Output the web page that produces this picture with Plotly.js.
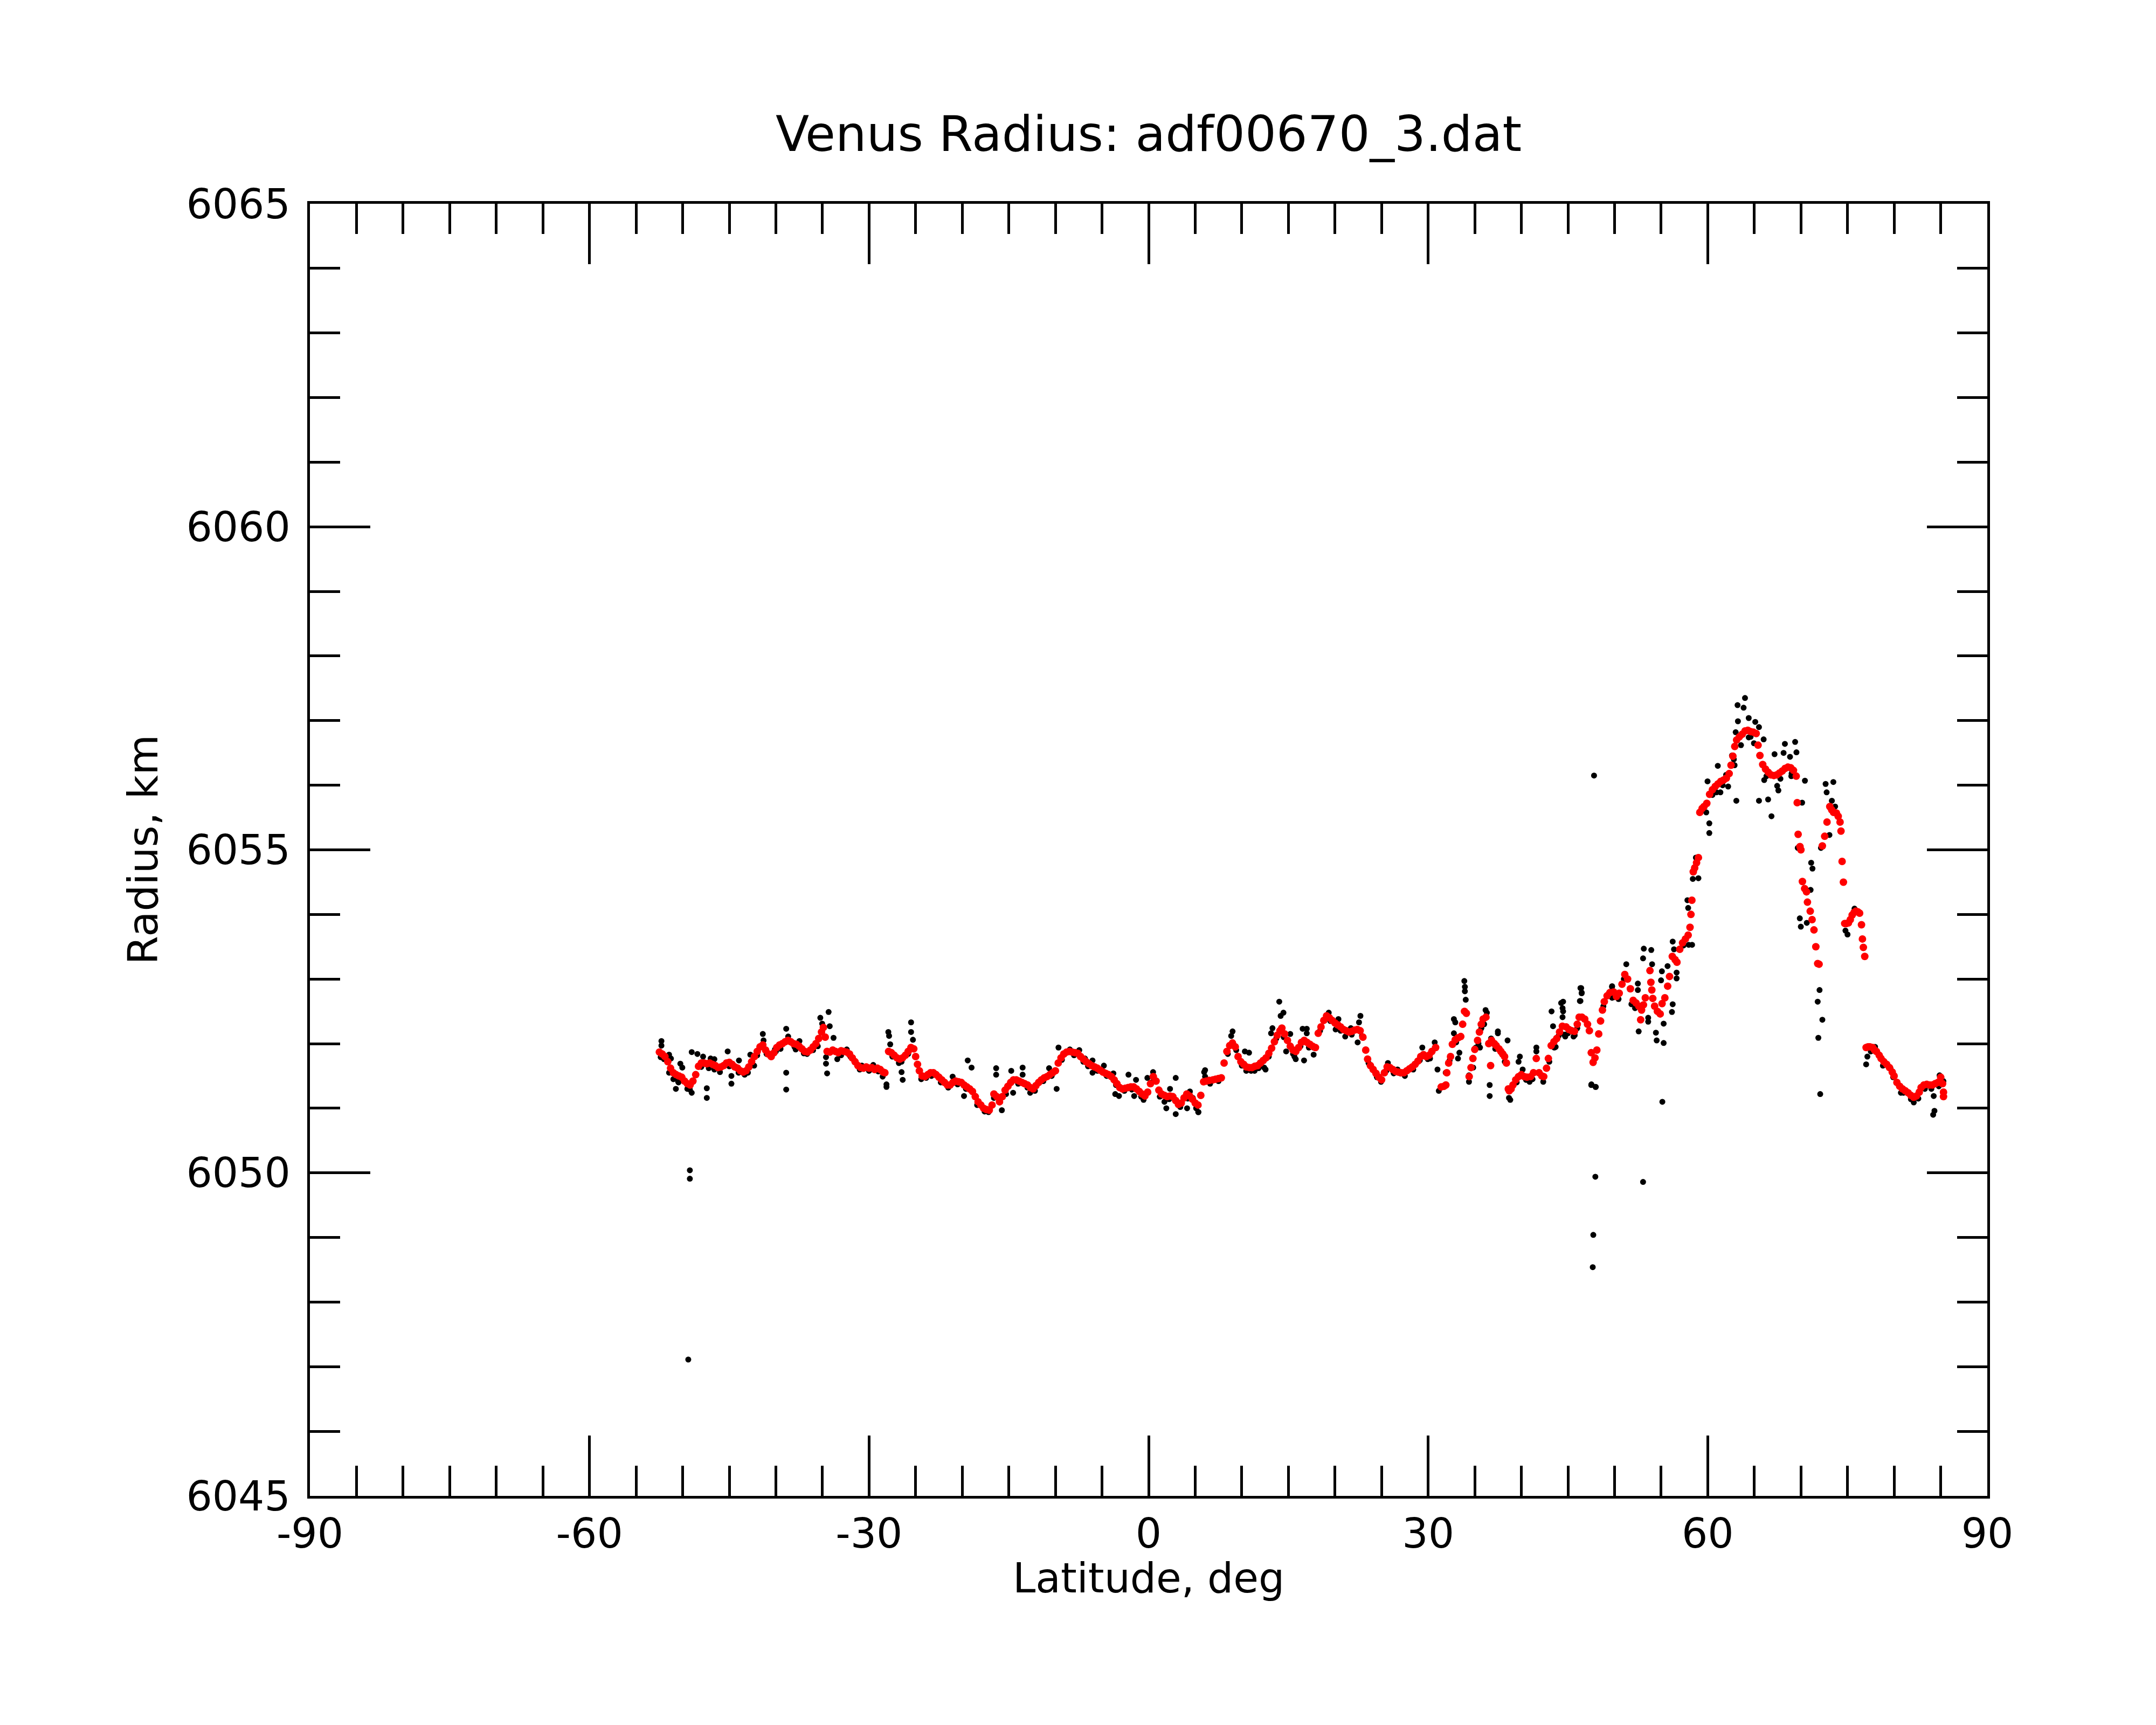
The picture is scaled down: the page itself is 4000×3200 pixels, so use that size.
<!DOCTYPE html>
<html>
<head>
<meta charset="utf-8">
<script src="https://cdn.plot.ly/plotly-3.0.1.min.js"></script>
<style>
  body { margin: 0; background: #fff; }
  #plot { width: 4000px; height: 3200px; }
</style>
</head>
<body>
<div id="plot"></div>
<script>
//------------INPUT DATA------------

// smoothed radius (red dots): latitude, deg
const redLat = [
  -52.5, -52.2, -51.9, -51.6, -51.3, -51.0, -50.7, -50.4, -50.1, -49.8, -49.5, -49.2, -48.9, -48.6, -48.3,
  -48.0, -47.7, -47.4, -47.1, -46.8, -46.5, -46.2, -45.9, -45.6, -45.3, -45.0, -44.7, -44.4, -44.1, -43.8,
  -43.5, -43.2, -42.9, -42.6, -42.3, -42.0, -41.7, -41.4, -41.1, -40.8, -40.5, -40.2, -39.9, -39.6, -39.3,
  -39.0, -38.7, -38.4, -38.1, -37.8, -37.5, -37.2, -36.9, -36.6, -36.3, -36.0, -35.7, -35.4, -35.1, -34.9,
  -34.7, -34.5, -34.2, -33.9, -33.6, -33.3, -33.0, -32.7, -32.4, -32.1, -31.8, -31.5, -31.2, -30.9, -30.6,
  -30.3, -30.0, -29.7, -29.4, -29.1, -28.8, -28.5, -28.3,
  -27.9, -27.6, -27.3, -27.0, -26.7, -26.4, -26.1, -25.8, -25.5, -25.2, -25.0, -24.8, -24.6, -24.3, -24.0,
  -23.7, -23.4, -23.1, -22.8, -22.5, -22.2, -21.9, -21.6, -21.3, -21.0, -20.7, -20.4, -20.1, -19.8, -19.5,
  -19.2, -18.9, -18.6, -18.3, -18.0, -17.7, -17.4, -17.1, -16.8, -16.6, -16.3, -16.0, -15.7, -15.4, -15.1,
  -14.8, -14.5, -14.2, -13.9, -13.6, -13.3, -13.0, -12.7, -12.4, -12.1, -11.8, -11.5, -11.2, -10.9, -10.6,
  -10.3, -10.0, -9.7, -9.4, -9.1, -8.8, -8.5, -8.2, -7.9, -7.6, -7.3, -7.0, -6.7, -6.4, -6.1,
  -5.8, -5.5, -5.2, -4.9, -4.6, -4.3, -4.0, -3.7, -3.4, -3.1, -2.8, -2.5, -2.2, -1.9, -1.6,
  -1.3, -1.0, -0.7, -0.4, -0.1, 0.2, 0.5, 0.8, 1.1, 1.4, 1.7, 2.0, 2.3, 2.6, 2.9,
  3.2, 3.5, 3.8, 4.1, 4.4, 4.7, 5.0, 5.3, 5.6, 5.9, 6.2, 6.5, 6.9, 7.2, 7.5,
  7.8, 8.1, 8.4, 8.7, 9.0, 9.3, 9.6, 9.9, 10.2, 10.5, 10.8, 11.1, 11.4, 11.7, 12.0,
  12.3, 12.6, 12.9, 13.2, 13.5, 13.8, 14.1, 14.3, 14.6, 14.9, 15.2, 15.5, 15.8, 16.1, 16.4,
  16.7, 17.0, 17.3, 17.6, 17.9, 18.2, 18.5, 18.8, 19.1, 19.4, 19.7, 20.0, 20.3, 20.6, 20.9,
  21.2, 21.5, 21.8, 22.1, 22.4, 22.7, 23.0, 23.3, 23.5, 23.8, 24.1, 24.4, 24.7, 25.0, 25.3,
  25.6, 25.9, 26.2, 26.5, 26.8, 27.1, 27.4, 27.7, 28.0, 28.3, 28.6, 28.9, 29.2, 29.5, 29.8,
  30.1, 30.4, 30.8,
  31.4, 31.7, 31.9, 32.0, 32.2, 32.4, 32.6, 32.9, 33.2, 33.5, 33.7, 33.9, 34.1,
  34.4, 34.6, 34.8, 35.0, 35.3, 35.5, 35.7, 35.9, 36.2, 36.5, 36.7, 36.8, 37.1, 37.3, 37.6,
  37.8, 38.0, 38.2, 38.4, 38.6, 38.7, 38.9, 39.1, 39.4, 39.7, 40.0, 40.3, 40.6, 41.0, 41.3,
  41.6, 41.9, 42.2, 42.4, 42.7, 42.9, 43.2, 43.5, 43.8, 44.1, 44.4, 44.8, 45.1, 45.4, 45.7,
  46.0, 46.2, 46.5, 46.8, 47.1, 47.3, 47.5, 47.7, 47.9, 48.1, 48.3, 48.5, 48.7, 48.9, 49.2,
  49.5, 49.9, 50.2, 50.5, 50.8, 51.1, 51.4, 51.7, 52.0, 52.3, 52.6, 52.8, 52.9, 53.1, 53.3,
  53.8, 53.9, 54.0, 54.1, 54.3, 54.6, 54.9, 55.1, 55.4, 55.7, 55.9, 56.2, 56.5, 56.7, 57.0,
  57.3, 57.6, 57.9, 58.1, 58.2, 58.3, 58.45, 58.6, 58.8, 59.0, 59.15, 59.4, 59.6, 59.9, 60.2,
  60.5, 60.8, 61.1, 61.4, 61.7, 62.0, 62.3, 62.5, 62.7, 62.9, 63.1, 63.4, 63.7, 64.0, 64.3,
  64.6, 64.9, 65.2, 65.4, 65.6, 65.9, 66.2, 66.5, 66.8, 67.1, 67.4, 67.7, 68.0, 68.3, 68.6,
  68.9, 69.2, 69.5, 69.6, 69.7, 69.9, 70.0, 70.16, 70.4, 70.6, 70.7, 71.0, 71.2, 71.4, 71.6,
  71.8, 71.95, 72.3, 72.55, 72.8, 73.1, 73.3, 73.5, 73.8, 74.0, 74.2, 74.3, 74.42, 74.56, 74.7,
  74.9, 75.1, 75.3, 75.5, 75.7, 75.9, 76.1, 76.3, 76.5, 76.6, 76.7, 76.85,
  77.0, 77.2, 77.4, 77.7, 77.9, 78.1, 78.4, 78.6, 78.9, 79.2, 79.5, 79.8, 80.0, 80.3, 80.6,
  80.9, 81.2, 81.5, 81.8, 82.1, 82.4, 82.7, 82.9, 83.2, 83.5, 83.8, 84.1, 84.4, 84.7, 85.0,
  85.2, 85.3, 85.3
];

// smoothed radius (red dots): km
const redRad = [
  6051.87, 6051.84, 6051.80, 6051.72, 6051.62, 6051.55, 6051.52, 6051.50, 6051.48, 6051.42, 6051.38, 6051.36, 6051.42, 6051.52, 6051.65,
  6051.70, 6051.70, 6051.69, 6051.70, 6051.68, 6051.66, 6051.63, 6051.64, 6051.66, 6051.70, 6051.71, 6051.68, 6051.64, 6051.62, 6051.58,
  6051.56, 6051.58, 6051.64, 6051.72, 6051.80, 6051.88, 6051.95, 6051.98, 6051.90, 6051.84, 6051.80, 6051.86, 6051.94, 6051.98, 6052.00,
  6052.03, 6052.05, 6052.03, 6052.00, 6051.99, 6051.96, 6051.92, 6051.88, 6051.87, 6051.90, 6051.95, 6052.00, 6052.08, 6052.18, 6052.25,
  6052.10, 6051.88, 6051.87, 6051.90, 6051.88, 6051.86, 6051.89, 6051.88, 6051.87, 6051.84, 6051.78, 6051.72, 6051.66, 6051.63, 6051.62,
  6051.64, 6051.62, 6051.63, 6051.60, 6051.62, 6051.60, 6051.56, 6051.55,
  6051.88, 6051.86, 6051.82, 6051.78, 6051.76, 6051.78, 6051.82, 6051.88, 6051.94, 6051.92, 6051.80, 6051.68, 6051.58, 6051.50, 6051.49,
  6051.52, 6051.55, 6051.55, 6051.52, 6051.48, 6051.44, 6051.40, 6051.36, 6051.36, 6051.40, 6051.42, 6051.41, 6051.40, 6051.36, 6051.33,
  6051.30, 6051.26, 6051.18, 6051.10, 6051.05, 6051.00, 6050.98, 6050.97, 6051.05, 6051.22, 6051.18, 6051.10, 6051.18, 6051.28, 6051.34,
  6051.40, 6051.44, 6051.44, 6051.42, 6051.40, 6051.38, 6051.36, 6051.32, 6051.30, 6051.35, 6051.40, 6051.44, 6051.47, 6051.49, 6051.52,
  6051.55, 6051.58, 6051.70, 6051.78, 6051.84, 6051.87, 6051.88, 6051.87, 6051.86, 6051.85, 6051.80, 6051.76, 6051.72, 6051.69, 6051.66,
  6051.64, 6051.62, 6051.59, 6051.56, 6051.54, 6051.52, 6051.49, 6051.44, 6051.38, 6051.32, 6051.30, 6051.31, 6051.32, 6051.33, 6051.33,
  6051.30, 6051.26, 6051.22, 6051.19, 6051.25, 6051.38, 6051.49, 6051.42, 6051.28, 6051.22, 6051.20, 6051.18, 6051.19, 6051.18, 6051.12,
  6051.06, 6051.08, 6051.16, 6051.22, 6051.19, 6051.14, 6051.08, 6051.05, 6051.20, 6051.41, 6051.42, 6051.43, 6051.44, 6051.45, 6051.46,
  6051.47, 6051.70, 6051.88, 6051.97, 6052.01, 6051.95, 6051.80, 6051.72, 6051.68, 6051.64, 6051.63, 6051.63, 6051.65, 6051.66, 6051.70,
  6051.74, 6051.78, 6051.85, 6051.93, 6052.03, 6052.13, 6052.20, 6052.24, 6052.15, 6052.05, 6051.96, 6051.90, 6051.88, 6051.94, 6052.02,
  6052.05, 6052.02, 6051.99, 6051.96, 6051.94, 6052.16, 6052.26, 6052.36, 6052.43, 6052.40, 6052.36, 6052.32, 6052.29, 6052.26, 6052.22,
  6052.20, 6052.18, 6052.19, 6052.21, 6052.22, 6052.20, 6052.10, 6051.90, 6051.76, 6051.66, 6051.60, 6051.54, 6051.48, 6051.44, 6051.55,
  6051.64, 6051.63, 6051.60, 6051.57, 6051.56, 6051.55, 6051.55, 6051.58, 6051.61, 6051.64, 6051.68, 6051.73, 6051.80, 6051.83, 6051.80,
  6051.82, 6051.88, 6051.94,
  6051.33, 6051.34, 6051.36, 6051.55, 6051.70, 6051.80, 6051.99, 6052.06, 6052.09, 6052.11, 6052.30, 6052.50, 6052.47,
  6051.49, 6051.63, 6051.77, 6051.91, 6052.05, 6052.18, 6052.30, 6052.38, 6052.41, 6052.00, 6051.66, 6052.05, 6052.00, 6051.97, 6051.92,
  6051.88, 6051.84, 6051.80, 6051.70, 6051.30, 6051.27, 6051.30, 6051.36, 6051.44, 6051.49, 6051.52, 6051.49, 6051.48, 6051.49, 6051.55,
  6051.77, 6051.55, 6051.50, 6051.49, 6051.62, 6051.77, 6051.97, 6052.03, 6052.08, 6052.18, 6052.27, 6052.26, 6052.22, 6052.20, 6052.19,
  6052.30, 6052.41, 6052.41, 6052.38, 6052.30, 6052.20, 6051.86, 6051.71, 6051.78, 6051.90, 6052.15, 6052.35, 6052.52, 6052.65, 6052.74,
  6052.79, 6052.80, 6052.73, 6052.78, 6052.92, 6053.07, 6053.00, 6052.85, 6052.67, 6052.63, 6052.58, 6052.37, 6052.52, 6052.60, 6052.71,
  6053.13, 6052.95, 6052.83, 6052.70, 6052.58, 6052.50, 6052.46, 6052.62, 6052.71, 6052.89, 6053.04, 6053.35, 6053.30, 6053.26, 6053.46,
  6053.56, 6053.62, 6053.68, 6053.80, 6054.00, 6054.22, 6054.66, 6054.72, 6054.80, 6054.88, 6055.58, 6055.64, 6055.67, 6055.72, 6055.86,
  6055.93, 6055.98, 6056.02, 6056.06, 6056.08, 6056.11, 6056.18, 6056.31, 6056.45, 6056.60, 6056.70, 6056.75, 6056.79, 6056.84, 6056.85,
  6056.83, 6056.82, 6056.80, 6056.62, 6056.46, 6056.32, 6056.25, 6056.20, 6056.16, 6056.15, 6056.16, 6056.19, 6056.22, 6056.26, 6056.28,
  6056.27, 6056.23, 6056.14, 6055.73, 6055.24, 6055.05, 6055.00, 6054.51, 6054.40, 6054.35, 6054.19, 6054.05, 6053.92, 6053.76, 6053.50,
  6053.24, 6053.23, 6055.06, 6055.21, 6055.43, 6055.67, 6055.62, 6055.58, 6055.57, 6055.52, 6055.43, 6055.29, 6054.82, 6054.50, 6053.86,
  6053.86, 6053.87, 6053.92, 6053.99, 6054.03, 6054.05, 6054.04, 6054.02, 6053.84, 6053.62, 6053.49, 6053.35,
  6051.94, 6051.95, 6051.95, 6051.94, 6051.90, 6051.88, 6051.82, 6051.77, 6051.72, 6051.68, 6051.63, 6051.56, 6051.50, 6051.40, 6051.34,
  6051.30, 6051.27, 6051.24, 6051.20, 6051.17, 6051.19, 6051.25, 6051.32, 6051.36, 6051.37, 6051.36, 6051.36, 6051.38, 6051.40, 6051.48,
  6051.38, 6051.25, 6051.18
];

// raw radius (black dots): latitude, deg
const rawLat = [
  -52.28, -52.28, -52.36, -51.46, -51.26, -51.46, -50.73, -50.45, -50.25, -50.04, -49.23, -49.03, -49.03, -49.23, -49.23,
  -49.4, -48.42, -47.81, -47.41, -47.41, -47.0, -46.6, -46.6, -45.17, -44.77, -44.77, -43.96, -43.35, -42.74, -42.33,
  -41.4, -41.32, -40.1, -38.89, -38.89, -38.89, -38.68, -37.87, -37.47, -36.65, -35.23, -35.03, -34.34, -34.22, -33.81,
  -34.62, -34.62, -34.5, -33.41, -32.39, -30.77, -29.55, -28.54, -28.13, -28.13, -27.93, -27.85, -27.73, -26.51, -26.51,
  -26.39, -25.49, -25.49, -25.29, -23.87, -21.03, -19.81, -19.41, -19.0, -17.18, -16.36, -16.36, -15.75, -14.74, -14.54,
  -13.52, -13.52, -12.71, -10.68, -9.87, -9.67, -8.45, -7.44, -6.83, -6.02, -6.02, -4.8, -3.78, -3.58, -3.18,
  -2.16, -1.35, -1.55, -0.54, -0.13, 0.48, 1.7, 1.9, 2.3, 2.91, 2.91, 4.13, 4.74, 5.35, 5.96,
  5.32, 4.43, 6.06, 6.06, 9.01, 8.86, 10.33, 10.78, 10.48, 11.37, 12.4, 12.55, 14.02, 14.47, 14.17,
  13.29, 13.14, 14.76, 15.2, 15.65, 15.79, 16.68, 16.53, 16.97, 16.97, 17.71, 17.71, 19.33, 20.07, 20.37,
  21.1, 21.7, 22.73, 22.58, 22.43, 24.06, 24.94, 25.68, 26.71, 27.01, 29.37, 29.96, 30.7, 31.14, 31.0,
  31.88, 32.76, 32.91, 32.76, 33.2, 33.35, 33.88, 33.94, 33.94, 34.03, 34.38, 34.38, 34.83, 35.12, 35.56,
  36.16, 36.3, 36.01, 35.71, 36.6, 36.6, 36.75, 37.48, 37.48, 38.52, 38.22, 38.67, 38.81, 39.84, 39.7,
  40.14, 40.88, 41.61, 41.61, 42.35, 43.24, 43.4, 43.54, 43.68, 44.27, 44.42, 44.42, 44.71, 45.6, 46.34,
  46.48, 46.34, 47.52, 47.96, 49.73, 49.88,
  47.8, 47.94, 47.72, 47.66, 53.06, 55.13, 47.5, 47.99, 72.07, 71.87, 72.3, 71.8, 72.0, 64.0, 63.2,
  63.85, 63.24, 64.4, 65.1, 65.5, 63.0, 63.57, 64.4, 64.96, 66.0, 63.07, 65.5, 66.48, 66.84, 67.17,
  68.28, 68.14, 68.83, 69.38, 69.52, 66.06, 67.58, 67.45, 68.97, 70.43, 70.13, 69.66, 71.1, 71.24, 71.04,
  69.88, 69.99, 70.63, 72.65, 73.48, 72.76, 73.32, 73.67, 73.06, 72.15, 74.78, 75.0, 75.75, 77.0, 77.13,
  77.96, 79.6, 80.73, 82.11, 84.19, 84.33, 84.25, 84.88, 85.29, 44.48, 44.48, 44.6, 45.72, 46.42, 46.47,
  46.28, 49.74, 51.26, 49.74, 50.43, 51.81, 52.5, 52.5, 52.59, 53.14, 53.06, 53.94, 54.03, 53.61, 53.61,
  54.44, 54.52, 55.27, 55.27, 54.99, 55.08, 55.69, 56.24, 56.38, 56.24, 56.16, 56.66, 56.66, 57.82, 57.9,
  57.96, 58.32, 59.0, 58.73, 60.17, 60.17, 59.98, 61.08, 60.94, 61.36, 62.19, 61.97, 62.6, 62.88, 59.84,
  59.28,
  -52.0, -51.0, -50.5, -49.5, -48.0, -47.2, -46.0, -45.0, -44.0, -43.0, -42.0, -41.0, -40.0, -39.5, -38.0,
  -37.0, -36.0, -35.5, -33.0, -32.0, -31.0, -30.0, -29.0, -27.5, -26.8, -25.8, -24.4, -23.3, -22.3, -21.5,
  -20.5, -19.6, -18.4, -17.6, -16.6, -15.3, -14.0, -13.0, -12.2, -11.3, -10.4, -9.3, -8.0, -7.0, -6.5,
  -5.5, -4.5, -3.5, -2.6, -1.8, -0.8, 0.3, 1.2, 2.2, 3.4, 4.2, 5.1, 6.6, 7.5, 8.5,
  9.4, 10.0, 11.0, 11.8, 12.9, 13.7, 14.5, 15.5, 16.3, 17.2, 18.4, 19.5, 20.6, 21.8, 22.9,
  23.6, 24.5, 25.5, 26.3, 27.5, 28.4, 29.1, 30.2, 32.3, 33.0, 35.4, 37.2, 39.5, 40.5, 41.2,
  43.0, 44.0, 45.0, 46.0, 48.8, 50.0, 51.0, 52.2, 57.4, 58.4, 60.5, 61.6, 62.8, 64.6, 66.3,
  67.8, 69.0, 77.5, 78.8, 79.9, 81.0, 81.8, 82.6, 83.3, 84.0, 84.8
];

// raw radius (black dots): km
const rawRad = [
  6052.04, 6051.97, 6051.79, 6051.83, 6051.77, 6051.55, 6051.30, 6051.40, 6051.69, 6051.63, 6051.29, 6051.24, 6051.87, 6050.04, 6049.91,
  6047.11, 6051.84, 6051.80, 6051.31, 6051.16, 6051.77, 6051.76, 6051.60, 6051.88, 6051.50, 6051.38, 6051.74, 6051.52, 6051.83, 6051.66,
  6052.15, 6052.05, 6051.91, 6052.23, 6051.55, 6051.29, 6052.11, 6051.91, 6052.04, 6051.84, 6052.40, 6052.31, 6052.49, 6052.27, 6052.09,
  6051.79, 6051.69, 6051.54, 6051.76, 6051.91, 6051.66, 6051.67, 6051.49, 6051.37, 6051.33, 6052.18, 6052.12, 6051.99, 6051.72, 6051.56,
  6051.44, 6052.33, 6052.18, 6052.06, 6051.47, 6051.49, 6051.19, 6051.74, 6051.63, 6050.94, 6051.62, 6051.52, 6050.97, 6051.58, 6051.24,
  6051.63, 6051.52, 6051.24, 6051.62, 6051.30, 6051.94, 6051.91, 6051.90, 6051.77, 6051.74, 6051.55, 6051.66, 6051.54, 6051.22, 6051.19,
  6051.52, 6051.44, 6051.19, 6051.13, 6051.47, 6051.56, 6051.10, 6051.00, 6051.30, 6051.47, 6050.91, 6051.00, 6051.16, 6050.94, 6051.56,
  6050.94, 6051.26, 6051.59, 6051.49, 6052.19, 6052.12, 6051.88, 6051.86, 6051.58, 6051.58, 6051.63, 6051.60, 6052.65, 6052.48, 6052.43,
  6052.24, 6052.16, 6051.88, 6052.15, 6051.80, 6051.76, 6051.74, 6052.23, 6052.23, 6052.16, 6051.83, 6051.94, 6052.48, 6052.22, 6052.38,
  6052.11, 6052.24, 6052.43, 6052.33, 6052.02, 6051.60, 6051.41, 6051.70, 6051.60, 6051.54, 6051.94, 6051.76, 6052.02, 6051.27, 6051.60,
  6051.55, 6052.38, 6052.33, 6052.16, 6051.77, 6051.86, 6052.97, 6052.88, 6052.81, 6052.68, 6051.41, 6051.51, 6051.63, 6051.94, 6051.94,
  6052.52, 6052.48, 6052.30, 6052.24, 6051.36, 6051.19, 6052.08, 6052.19, 6052.16, 6052.05, 6051.72, 6051.16, 6051.13, 6051.80, 6051.72,
  6051.60, 6051.41, 6051.94, 6051.88, 6051.41, 6052.50, 6052.27, 6051.94, 6051.95, 6052.63, 6052.55, 6052.41, 6052.11, 6052.11, 6052.86,
  6052.79, 6052.66, 6051.37, 6051.33, 6052.88, 6052.80,
  6056.15, 6049.94, 6049.04, 6048.54, 6049.86, 6051.10, 6051.36, 6051.33, 6051.22, 6052.09, 6052.37, 6052.65, 6052.83, 6057.35, 6057.24,
  6057.20, 6056.99, 6057.04, 6056.98, 6056.90, 6056.82, 6056.62, 6056.74, 6056.65, 6056.71, 6055.76, 6055.76, 6055.78, 6055.52, 6056.48,
  6056.64, 6056.50, 6056.44, 6056.67, 6056.51, 6056.08, 6055.92, 6055.99, 6056.14, 6056.07, 6055.73, 6055.03, 6054.80, 6054.71, 6054.38,
  6053.94, 6053.81, 6053.87, 6056.02, 6056.05, 6055.89, 6055.76, 6055.67, 6055.23, 6055.03, 6053.75, 6053.69, 6054.09, 6051.68, 6051.80,
  6051.95, 6051.62, 6051.24, 6051.09, 6050.90, 6050.96, 6051.19, 6051.51, 6051.42, 6052.65, 6052.50, 6052.14, 6052.13, 6052.86, 6052.78,
  6052.66, 6052.89, 6053.23, 6052.71, 6052.69, 6052.61, 6052.93, 6052.83, 6052.19, 6053.47, 6053.32, 6053.45, 6053.23, 6052.34, 6052.40,
  6052.17, 6052.05, 6052.01, 6052.31, 6052.98, 6053.12, 6053.20, 6053.58, 6053.46, 6052.61, 6052.49, 6053.01, 6053.10, 6054.22, 6054.10,
  6053.53, 6053.53, 6054.56, 6054.88, 6055.41, 6055.26, 6056.06, 6056.30, 6055.89, 6055.89, 6055.98, 6056.16, 6056.46, 6056.31, 6055.58,
  6055.61,
  6051.76, 6051.45, 6051.42, 6051.30, 6051.64, 6051.62, 6051.56, 6051.65, 6051.55, 6051.55, 6051.82, 6051.84, 6051.88, 6051.92, 6051.95,
  6051.85, 6051.90, 6051.96, 6051.82, 6051.80, 6051.60, 6051.58, 6051.57, 6051.80, 6051.70, 6051.84, 6051.45, 6051.50, 6051.40, 6051.32,
  6051.37, 6051.30, 6051.05, 6050.95, 6051.16, 6051.22, 6051.38, 6051.32, 6051.27, 6051.42, 6051.50, 6051.75, 6051.82, 6051.72, 6051.65,
  6051.58, 6051.50, 6051.36, 6051.27, 6051.29, 6051.18, 6051.40, 6051.18, 6051.14, 6051.02, 6051.15, 6051.00, 6051.38, 6051.42, 6051.84,
  6051.90, 6051.66, 6051.58, 6051.62, 6051.80, 6052.08, 6052.10, 6051.84, 6051.96, 6051.94, 6052.20, 6052.35, 6052.20, 6052.14, 6052.12,
  6051.70, 6051.48, 6051.58, 6051.54, 6051.50, 6051.60, 6051.74, 6051.77, 6051.74, 6052.02, 6052.00, 6051.92, 6051.40, 6051.44, 6051.45,
  6051.72, 6052.12, 6052.16, 6052.24, 6052.58, 6052.72, 6053.00, 6052.55, 6053.52, 6054.55, 6055.85, 6056.00, 6056.40, 6056.75, 6056.14,
  6056.10, 6056.18, 6051.88, 6051.66, 6051.48, 6051.24, 6051.14, 6051.15, 6051.30, 6051.30, 6051.34
];

// axis ticks
const xTickVals = [-90, -60, -30, 0, 30, 60, 90];
const yTickVals = [6045, 6050, 6055, 6060, 6065];
//------------END INPUT DATA------------

const FONT = "DejaVu Sans, Liberation Sans, sans-serif";

function venusPlot() {
  // raw points first, smoothed on top
  const rawTrace = {
    x: rawLat,
    y: rawRad,
    type: "scatter",
    mode: "markers",
    hoverinfo: "none",
    marker: { color: "rgb(0, 0, 0)", size: 11, line: { width: 0 } },
  };

  const redTrace = {
    x: redLat,
    y: redRad,
    type: "scatter",
    mode: "markers",
    hoverinfo: "none",
    marker: { color: "rgb(255, 0, 0)", size: 14, line: { width: 0 } },
  };

  const axisCommon = {
    showgrid: false,
    zeroline: false,
    showline: true,
    linecolor: "#000",
    linewidth: 5,
    mirror: "ticks",
    ticks: "inside",
    tickcolor: "#000",
    tickwidth: 5,
    ticklen: 112,
    tickfont: { family: FONT, size: 76, color: "#000" },
    tickmode: "array",
  };

  const layout = {
    width: 4000,
    height: 3200,
    margin: { t: 378, b: 425, l: 575, r: 313 },
    paper_bgcolor: "#fff",
    plot_bgcolor: "#fff",
    showlegend: false,
    title: {
      text: "Venus Radius: adf00670_3.dat",
      font: { family: FONT, size: 91, color: "#000" },
      x: 0.5,
      xref: "paper",
      y: 0.9223,
      yref: "container",
      yanchor: "middle",
    },
    xaxis: Object.assign({}, axisCommon, {
      range: [-90, 90],
      tickvals: xTickVals,
      ticktext: xTickVals.map(String),
      minor: { dtick: 5, tick0: -90, ticks: "inside", ticklen: 56, tickwidth: 5, tickcolor: "#000" },
    }),
    yaxis: Object.assign({}, axisCommon, {
      range: [6045, 6065],
      tickvals: yTickVals,
      ticktext: yTickVals.map(String),
      ticklabelstandoff: 16,
      minor: { dtick: 1, tick0: 6045, ticks: "inside", ticklen: 56, tickwidth: 5, tickcolor: "#000" },
    }),
    // axis titles placed as paper annotations for exact positioning
    annotations: [
      {
        text: "Latitude, deg",
        xref: "paper", yref: "paper",
        x: 0.5, y: -0.0635,
        xanchor: "center", yanchor: "middle",
        showarrow: false,
        font: { family: FONT, size: 76, color: "#000" },
      },
      {
        text: "Radius, km",
        xref: "paper", yref: "paper",
        x: -0.0996, y: 0.5,
        xanchor: "center", yanchor: "middle",
        textangle: -90,
        showarrow: false,
        font: { family: FONT, size: 77, color: "#000" },
      },
    ],
  };

  Plotly.newPlot("plot", [rawTrace, redTrace], layout, { staticPlot: true });
}

venusPlot();
</script>
</body>
</html>
